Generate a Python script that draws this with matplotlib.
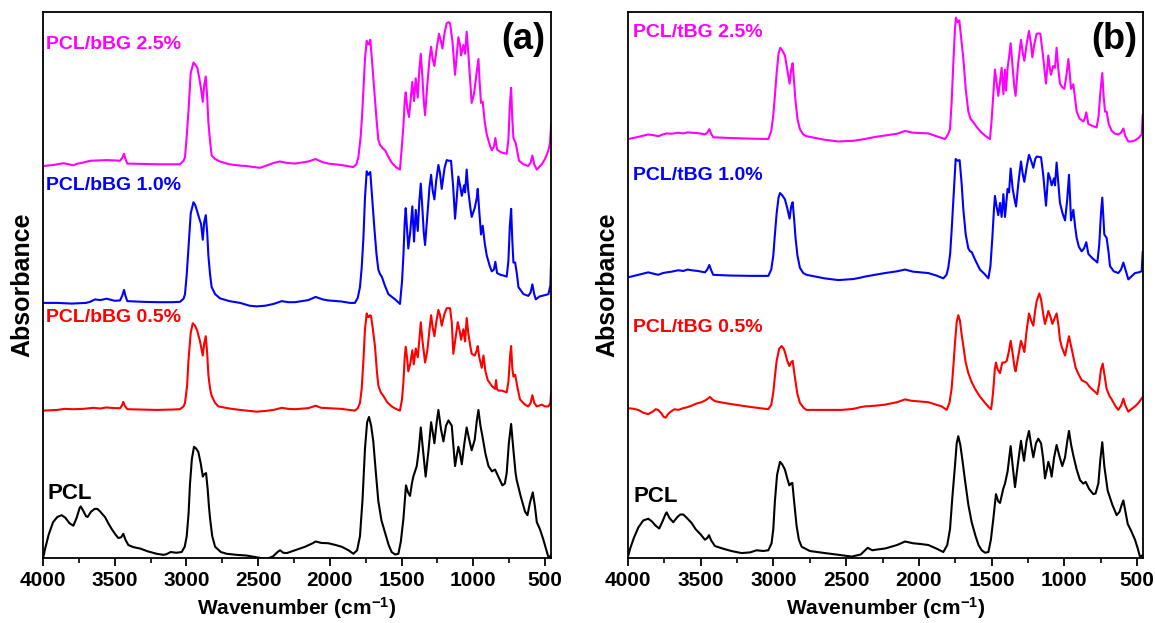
import matplotlib
matplotlib.use("Agg")
import matplotlib.pyplot as plt
from matplotlib.ticker import MultipleLocator

plt.rcParams['font.family'] = ['Liberation Sans', 'DejaVu Sans']
plt.rcParams['font.weight'] = 'bold'
plt.rcParams['mathtext.fontset'] = 'custom'
plt.rcParams['mathtext.rm'] = 'Liberation Sans:bold'
plt.rcParams['mathtext.bf'] = 'Liberation Sans:bold'
plt.rcParams['mathtext.default'] = 'bf'

# (wavenumber cm-1, absorbance a.u. above each trace's own baseline)
# ---------------- Panel (a): PCL/bBG ----------------
a_pcl = [(3998, -0.005), (3985, 0.02), (3960, 0.06), (3930, 0.095), (3900, 0.110), (3870, 0.115), (3845, 0.108),
         (3815, 0.092), (3788, 0.085), (3765, 0.108), (3745, 0.135), (3737, 0.140), (3720, 0.128), (3700, 0.112),
         (3689, 0.110), (3665, 0.125), (3640, 0.133), (3621, 0.133), (3600, 0.125), (3580, 0.115), (3568, 0.110),
         (3545, 0.092), (3520, 0.075), (3495, 0.060), (3475, 0.050), (3455, 0.052), (3440, 0.062), (3425, 0.045),
         (3405, 0.030), (3370, 0.024), (3323, 0.020), (3270, 0.012), (3207, 0.005), (3160, 0.002), (3138, 0.004),
         (3110, 0.010), (3070, 0.008), (3033, 0.010), (3012, 0.025), (2998, 0.055), (2985, 0.120), (2975, 0.205),
         (2962, 0.275), (2947, 0.310), (2932, 0.305), (2917, 0.295), (2900, 0.262), (2886, 0.225), (2875, 0.232),
         (2863, 0.235), (2852, 0.190), (2843, 0.140), (2835, 0.105), (2820, 0.055), (2800, 0.025), (2760, 0.010),
         (2719, 0.005), (2650, 0.002), (2580, 0.000), (2510, -0.005), (2440, -0.010), (2395, -0.002), (2365, 0.010),
         (2347, 0.015), (2325, 0.008), (2300, 0.007), (2243, 0.015), (2173, 0.025), (2120, 0.035), (2099, 0.040),
         (2060, 0.036), (2010, 0.035), (1960, 0.030), (1917, 0.025), (1870, 0.015), (1836, 0.005), (1810, 0.015),
         (1790, 0.055), (1772, 0.160), (1755, 0.305), (1740, 0.380), (1727, 0.395), (1712, 0.370), (1697, 0.325),
         (1680, 0.240), (1662, 0.155), (1640, 0.100), (1615, 0.065), (1590, 0.030), (1569, 0.010), (1545, 0.003),
         (1522, 0.005), (1505, 0.040), (1487, 0.105), (1469, 0.200), (1455, 0.180), (1441, 0.170), (1428, 0.205),
         (1418, 0.225), (1394, 0.255), (1380, 0.300), (1366, 0.365), (1350, 0.300), (1332, 0.225), (1312, 0.300),
         (1294, 0.380), (1280, 0.345), (1271, 0.320), (1255, 0.380), (1243, 0.415), (1225, 0.360), (1208, 0.325),
         (1190, 0.370), (1173, 0.385), (1150, 0.370), (1138, 0.310), (1127, 0.255), (1115, 0.285), (1104, 0.310),
         (1092, 0.290), (1080, 0.260), (1062, 0.320), (1046, 0.365), (1028, 0.330), (1011, 0.300), (990, 0.330),
         (975, 0.385), (964, 0.415), (950, 0.370), (934, 0.335), (915, 0.290), (894, 0.255), (870, 0.240),
         (848, 0.245), (825, 0.225), (797, 0.200), (780, 0.205), (767, 0.235), (752, 0.320), (736, 0.375),
         (720, 0.300), (705, 0.235), (697, 0.215), (670, 0.170), (639, 0.125), (622, 0.115), (605, 0.150),
         (585, 0.180), (570, 0.140), (557, 0.095), (535, 0.075), (511, 0.045), (490, 0.015), (476, -0.005),
         (458, 0.000)]

a_05 = [(3998, -0.002), (3900, 0.000), (3850, 0.003), (3788, 0.002), (3720, 0.003), (3649, 0.006), (3600, 0.004),
        (3560, 0.007), (3500, 0.005), (3463, 0.005), (3450, 0.012), (3440, 0.023), (3430, 0.012), (3412, 0.002),
        (3300, 0.001), (3207, 0.000), (3100, 0.001), (3045, 0.002), (3020, 0.010), (3010, 0.020), (2995, 0.070),
        (2986, 0.140), (2970, 0.220), (2956, 0.247), (2940, 0.240), (2924, 0.225), (2905, 0.195), (2898, 0.180),
        (2886, 0.155), (2876, 0.190), (2865, 0.210), (2855, 0.160), (2847, 0.100), (2835, 0.060), (2824, 0.040),
        (2800, 0.020), (2777, 0.010), (2700, 0.004), (2626, 0.000), (2560, -0.003), (2510, -0.005), (2450, -0.003),
        (2393, 0.000), (2335, 0.006), (2290, 0.003), (2243, 0.002), (2150, 0.005), (2099, 0.012), (2060, 0.006),
        (2010, 0.005), (1920, 0.003), (1860, 0.000), (1825, -0.002), (1805, 0.005), (1790, 0.020), (1778, 0.060),
        (1766, 0.140), (1755, 0.230), (1743, 0.275), (1735, 0.265), (1727, 0.265), (1720, 0.270), (1713, 0.268),
        (1700, 0.230), (1685, 0.180), (1672, 0.110), (1662, 0.070), (1645, 0.050), (1627, 0.040), (1600, 0.022),
        (1569, 0.010), (1540, 0.003), (1511, -0.002), (1497, 0.030), (1487, 0.080), (1478, 0.150), (1471, 0.180),
        (1462, 0.150), (1453, 0.110), (1440, 0.130), (1425, 0.170), (1415, 0.130), (1401, 0.175), (1387, 0.150),
        (1376, 0.200), (1366, 0.250), (1355, 0.200), (1336, 0.135), (1320, 0.170), (1305, 0.230), (1294, 0.270),
        (1283, 0.235), (1271, 0.210), (1258, 0.250), (1243, 0.285), (1232, 0.270), (1220, 0.240), (1200, 0.275),
        (1185, 0.290), (1162, 0.290), (1150, 0.250), (1139, 0.160), (1125, 0.200), (1108, 0.250), (1095, 0.225),
        (1085, 0.200), (1069, 0.230), (1057, 0.195), (1046, 0.262), (1035, 0.220), (1020, 0.180), (1011, 0.160),
        (990, 0.155), (975, 0.170), (969, 0.182), (958, 0.150), (941, 0.120), (929, 0.155), (915, 0.110),
        (899, 0.085), (870, 0.068), (848, 0.060), (841, 0.085), (835, 0.060), (825, 0.055), (800, 0.055),
        (767, 0.050), (755, 0.080), (742, 0.160), (736, 0.182), (728, 0.120), (720, 0.095), (708, 0.100),
        (690, 0.060), (674, 0.030), (640, 0.015), (616, 0.010), (600, 0.020), (588, 0.042), (575, 0.020),
        (557, 0.010), (522, 0.015), (500, 0.010), (476, 0.010), (462, 0.020), (457, 0.050)]

a_10 = [(3998, 0.000), (3900, 0.000), (3800, -0.002), (3700, 0.000), (3672, 0.003), (3637, 0.010), (3600, 0.008),
        (3556, 0.012), (3500, 0.006), (3463, 0.007), (3448, 0.020), (3435, 0.037), (3425, 0.020), (3412, 0.005),
        (3300, 0.003), (3200, 0.002), (3100, 0.002), (3045, 0.003), (3020, 0.012), (3010, 0.025), (2998, 0.080),
        (2986, 0.155), (2970, 0.255), (2951, 0.287), (2940, 0.280), (2928, 0.265), (2910, 0.240), (2898, 0.225),
        (2886, 0.180), (2876, 0.230), (2865, 0.250), (2855, 0.200), (2847, 0.135), (2835, 0.080), (2824, 0.045),
        (2800, 0.025), (2766, 0.013), (2700, 0.005), (2626, 0.000), (2560, -0.008), (2510, -0.010), (2450, -0.008),
        (2393, -0.003), (2335, 0.005), (2290, 0.002), (2243, 0.002), (2150, 0.008), (2099, 0.017), (2050, 0.010),
        (2010, 0.007), (1920, 0.004), (1859, 0.000), (1825, 0.000), (1805, 0.015), (1790, 0.045), (1778, 0.100),
        (1766, 0.185), (1755, 0.300), (1743, 0.375), (1732, 0.365), (1718, 0.373), (1705, 0.300), (1690, 0.215),
        (1675, 0.140), (1662, 0.095), (1650, 0.082), (1638, 0.075), (1615, 0.048), (1592, 0.025), (1545, 0.010),
        (1511, -0.003), (1497, 0.060), (1487, 0.135), (1478, 0.230), (1471, 0.270), (1462, 0.210), (1453, 0.155),
        (1440, 0.200), (1425, 0.275), (1413, 0.175), (1401, 0.265), (1387, 0.205), (1376, 0.290), (1366, 0.340),
        (1355, 0.270), (1345, 0.200), (1336, 0.165), (1320, 0.250), (1305, 0.330), (1294, 0.365), (1283, 0.320),
        (1271, 0.295), (1258, 0.350), (1243, 0.393), (1232, 0.370), (1220, 0.325), (1200, 0.385), (1185, 0.407),
        (1170, 0.405), (1155, 0.405), (1140, 0.330), (1127, 0.240), (1115, 0.300), (1104, 0.360), (1092, 0.335),
        (1080, 0.305), (1064, 0.335), (1057, 0.315), (1046, 0.380), (1035, 0.320), (1020, 0.270), (1011, 0.245),
        (990, 0.270), (975, 0.300), (969, 0.325), (958, 0.260), (946, 0.195), (934, 0.220), (920, 0.170),
        (906, 0.135), (885, 0.105), (871, 0.090), (856, 0.095), (846, 0.117), (834, 0.085), (810, 0.080),
        (790, 0.078), (767, 0.075), (755, 0.120), (745, 0.220), (736, 0.268), (728, 0.180), (720, 0.115),
        (708, 0.115), (695, 0.080), (685, 0.045), (650, 0.025), (616, 0.020), (600, 0.030), (588, 0.053),
        (575, 0.025), (564, 0.010), (540, 0.018), (522, 0.020), (500, 0.022), (476, 0.025), (462, 0.050),
        (457, 0.125)]

a_25 = [(3998, -0.005), (3930, -0.002), (3858, 0.003), (3820, 0.000), (3788, -0.003), (3760, 0.002), (3742, 0.003),
        (3710, 0.006), (3672, 0.010), (3620, 0.011), (3556, 0.012), (3500, 0.011), (3463, 0.010), (3448, 0.018),
        (3435, 0.030), (3425, 0.015), (3412, 0.002), (3300, 0.001), (3200, 0.000), (3100, 0.000), (3045, 0.000),
        (3020, 0.010), (3010, 0.020), (2998, 0.080), (2986, 0.150), (2970, 0.260), (2951, 0.290), (2940, 0.285),
        (2924, 0.275), (2910, 0.245), (2898, 0.215), (2886, 0.178), (2876, 0.225), (2865, 0.250), (2855, 0.190),
        (2847, 0.120), (2835, 0.065), (2824, 0.025), (2800, 0.015), (2766, 0.008), (2700, 0.000), (2620, -0.004),
        (2580, -0.005), (2530, -0.008), (2486, -0.010), (2430, -0.002), (2390, 0.004), (2347, 0.008), (2300, 0.004),
        (2243, 0.002), (2150, 0.008), (2099, 0.015), (2050, 0.006), (2010, 0.002), (1920, -0.002), (1836, -0.008),
        (1815, 0.000), (1801, 0.020), (1785, 0.080), (1775, 0.140), (1766, 0.210), (1755, 0.300), (1743, 0.352),
        (1735, 0.342), (1727, 0.342), (1718, 0.355), (1705, 0.290), (1690, 0.210), (1675, 0.130), (1662, 0.070),
        (1650, 0.055), (1630, 0.045), (1615, 0.040), (1590, 0.020), (1569, 0.005), (1540, -0.008), (1511, -0.015),
        (1500, 0.040), (1487, 0.110), (1478, 0.180), (1471, 0.205), (1460, 0.160), (1448, 0.135), (1435, 0.190),
        (1425, 0.235), (1413, 0.180), (1401, 0.245), (1387, 0.190), (1376, 0.270), (1366, 0.315), (1355, 0.250),
        (1345, 0.180), (1336, 0.140), (1320, 0.230), (1305, 0.300), (1294, 0.335), (1283, 0.300), (1271, 0.280),
        (1255, 0.330), (1239, 0.372), (1228, 0.355), (1215, 0.330), (1200, 0.375), (1185, 0.402), (1172, 0.405),
        (1162, 0.402), (1145, 0.350), (1127, 0.255), (1115, 0.310), (1104, 0.362), (1092, 0.340), (1085, 0.310),
        (1069, 0.340), (1057, 0.315), (1046, 0.378), (1035, 0.320), (1020, 0.230), (1011, 0.175), (995, 0.200),
        (980, 0.250), (964, 0.300), (955, 0.230), (946, 0.175), (934, 0.178), (920, 0.120), (906, 0.085),
        (885, 0.055), (871, 0.040), (856, 0.050), (846, 0.075), (834, 0.042), (810, 0.035), (790, 0.032),
        (767, 0.030), (755, 0.070), (745, 0.170), (736, 0.218), (728, 0.130), (720, 0.075), (704, 0.060),
        (690, 0.030), (681, 0.010), (650, 0.000), (616, -0.005), (600, 0.005), (588, 0.025), (575, 0.000),
        (557, -0.015), (540, -0.008), (522, 0.000), (500, 0.015), (476, 0.040), (465, 0.060), (457, 0.115)]

# ---------------- Panel (b): PCL/tBG ----------------
b_pcl = [(3998, -0.005), (3985, 0.015), (3960, 0.045), (3929, 0.075), (3895, 0.095), (3861, 0.100), (3835, 0.092),
         (3810, 0.080), (3785, 0.072), (3760, 0.095), (3740, 0.115), (3734, 0.118), (3715, 0.102), (3689, 0.090),
         (3660, 0.105), (3640, 0.112), (3620, 0.112), (3595, 0.102), (3563, 0.088), (3535, 0.070), (3500, 0.055),
         (3471, 0.040), (3455, 0.045), (3443, 0.053), (3428, 0.038), (3402, 0.022), (3350, 0.015), (3290, 0.008),
         (3219, 0.002), (3160, 0.004), (3116, 0.010), (3070, 0.008), (3035, 0.010), (3013, 0.030), (3001, 0.070),
         (2990, 0.150), (2975, 0.225), (2955, 0.262), (2940, 0.255), (2921, 0.240), (2905, 0.215), (2891, 0.195),
         (2880, 0.200), (2870, 0.202), (2858, 0.150), (2841, 0.080), (2825, 0.040), (2806, 0.020), (2750, 0.008),
         (2646, 0.002), (2550, -0.003), (2462, -0.008), (2400, -0.002), (2370, 0.010), (2352, 0.017), (2320, 0.010),
         (2290, 0.012), (2233, 0.015), (2150, 0.025), (2095, 0.035), (2040, 0.030), (1990, 0.028), (1935, 0.025),
         (1880, 0.015), (1832, 0.005), (1805, 0.025), (1786, 0.070), (1770, 0.160), (1752, 0.250), (1740, 0.315),
         (1729, 0.335), (1715, 0.310), (1700, 0.265), (1683, 0.210), (1660, 0.140), (1637, 0.090), (1610, 0.050),
         (1590, 0.025), (1568, 0.010), (1545, 0.003), (1522, 0.005), (1505, 0.040), (1488, 0.100), (1470, 0.170),
         (1455, 0.150), (1442, 0.145), (1420, 0.185), (1408, 0.200), (1390, 0.235), (1380, 0.270), (1369, 0.307),
         (1355, 0.250), (1339, 0.190), (1318, 0.260), (1298, 0.322), (1285, 0.285), (1277, 0.265), (1260, 0.320),
         (1243, 0.350), (1228, 0.310), (1213, 0.275), (1195, 0.315), (1179, 0.328), (1160, 0.315), (1145, 0.270),
         (1133, 0.215), (1120, 0.240), (1110, 0.262), (1098, 0.245), (1087, 0.220), (1070, 0.275), (1053, 0.310),
         (1035, 0.280), (1014, 0.250), (995, 0.275), (980, 0.320), (968, 0.350), (953, 0.310), (938, 0.280),
         (915, 0.240), (892, 0.210), (870, 0.200), (853, 0.205), (830, 0.185), (801, 0.170), (785, 0.172),
         (766, 0.200), (752, 0.270), (739, 0.318), (725, 0.250), (702, 0.180), (670, 0.140), (640, 0.110),
         (620, 0.120), (605, 0.140), (594, 0.152), (580, 0.120), (564, 0.085), (540, 0.065), (514, 0.040),
         (495, 0.015), (480, -0.008), (464, -0.005)]

b_05 = [(3998, 0.005), (3960, 0.003), (3929, 0.000), (3895, -0.008), (3861, -0.012), (3830, -0.005), (3810, 0.002),
        (3792, 0.000), (3770, -0.010), (3755, -0.020), (3741, -0.022), (3725, -0.012), (3700, -0.003), (3680, 0.002),
        (3654, 0.000), (3620, 0.005), (3590, 0.008), (3563, 0.012), (3530, 0.018), (3494, 0.022), (3465, 0.028),
        (3450, 0.033), (3437, 0.037), (3420, 0.030), (3402, 0.025), (3340, 0.020), (3265, 0.015), (3150, 0.008),
        (3035, 0.002), (3015, 0.015), (3001, 0.050), (2990, 0.095), (2978, 0.140), (2960, 0.175), (2944, 0.182),
        (2930, 0.175), (2921, 0.165), (2905, 0.140), (2891, 0.125), (2880, 0.135), (2868, 0.140), (2858, 0.110),
        (2848, 0.080), (2835, 0.045), (2818, 0.020), (2790, 0.005), (2772, 0.000), (2650, 0.000), (2531, 0.000),
        (2450, 0.003), (2400, 0.008), (2371, 0.010), (2300, 0.012), (2233, 0.015), (2150, 0.022), (2095, 0.030),
        (2050, 0.026), (1990, 0.024), (1935, 0.022), (1880, 0.015), (1843, 0.010), (1809, 0.000), (1790, 0.020),
        (1775, 0.060), (1762, 0.130), (1752, 0.190), (1740, 0.250), (1729, 0.270), (1718, 0.255), (1706, 0.215),
        (1694, 0.180), (1678, 0.135), (1660, 0.105), (1640, 0.082), (1614, 0.060), (1580, 0.038), (1545, 0.020),
        (1520, 0.008), (1504, 0.002), (1496, 0.025), (1488, 0.060), (1478, 0.115), (1470, 0.135), (1458, 0.115),
        (1442, 0.105), (1432, 0.125), (1426, 0.135), (1410, 0.135), (1396, 0.140), (1382, 0.165), (1369, 0.197),
        (1355, 0.160), (1342, 0.120), (1335, 0.110), (1318, 0.150), (1298, 0.197), (1285, 0.180), (1275, 0.165),
        (1258, 0.230), (1243, 0.275), (1228, 0.255), (1213, 0.240), (1200, 0.285), (1190, 0.310), (1172, 0.332),
        (1160, 0.315), (1151, 0.290), (1140, 0.260), (1133, 0.245), (1120, 0.265), (1110, 0.282), (1095, 0.265),
        (1082, 0.245), (1068, 0.260), (1053, 0.275), (1040, 0.240), (1030, 0.200), (1018, 0.180), (995, 0.155),
        (980, 0.185), (968, 0.210), (955, 0.185), (950, 0.175), (935, 0.145), (922, 0.120), (900, 0.100),
        (881, 0.085), (860, 0.080), (846, 0.077), (830, 0.068), (812, 0.060), (790, 0.052), (773, 0.045),
        (760, 0.075), (748, 0.115), (736, 0.132), (722, 0.095), (709, 0.060), (690, 0.040), (674, 0.030),
        (650, 0.012), (629, 0.000), (610, 0.012), (594, 0.032), (580, 0.012), (560, -0.005), (540, 0.002),
        (514, 0.010), (490, 0.020), (464, 0.035)]

b_10 = [(3998, -0.002), (3930, 0.005), (3861, 0.012), (3820, 0.008), (3792, 0.005), (3760, 0.010), (3734, 0.012),
        (3700, 0.014), (3654, 0.018), (3620, 0.016), (3590, 0.020), (3563, 0.018), (3520, 0.016), (3471, 0.012),
        (3455, 0.020), (3441, 0.033), (3428, 0.018), (3414, 0.005), (3300, 0.003), (3150, 0.002), (3035, 0.002),
        (3015, 0.020), (3001, 0.060), (2990, 0.120), (2978, 0.180), (2965, 0.225), (2955, 0.238), (2940, 0.232),
        (2921, 0.220), (2905, 0.195), (2889, 0.165), (2878, 0.200), (2868, 0.212), (2858, 0.165), (2848, 0.110),
        (2835, 0.060), (2818, 0.025), (2795, 0.010), (2772, 0.005), (2650, -0.005), (2554, -0.010), (2450, -0.007),
        (2400, -0.003), (2371, 0.000), (2300, 0.005), (2233, 0.010), (2150, 0.015), (2095, 0.020), (2040, 0.014),
        (1990, 0.012), (1935, 0.010), (1880, 0.003), (1832, -0.005), (1810, 0.005), (1798, 0.025), (1785, 0.065),
        (1775, 0.130), (1760, 0.240), (1747, 0.335), (1733, 0.330), (1720, 0.332), (1707, 0.270), (1694, 0.190),
        (1678, 0.120), (1660, 0.080), (1648, 0.072), (1637, 0.070), (1610, 0.045), (1580, 0.020), (1550, 0.008),
        (1522, -0.005), (1508, 0.030), (1495, 0.110), (1484, 0.190), (1477, 0.230), (1466, 0.200), (1454, 0.175),
        (1442, 0.210), (1431, 0.170), (1419, 0.235), (1408, 0.170), (1398, 0.215), (1390, 0.250), (1380, 0.240),
        (1369, 0.308), (1355, 0.250), (1340, 0.215), (1332, 0.200), (1315, 0.270), (1298, 0.328), (1285, 0.290),
        (1275, 0.270), (1258, 0.315), (1243, 0.347), (1228, 0.330), (1213, 0.310), (1200, 0.335), (1190, 0.342),
        (1175, 0.341), (1160, 0.340), (1145, 0.290), (1126, 0.202), (1118, 0.250), (1110, 0.295), (1098, 0.280),
        (1087, 0.260), (1071, 0.280), (1064, 0.260), (1053, 0.325), (1042, 0.270), (1030, 0.210), (1012, 0.180),
        (995, 0.160), (980, 0.220), (968, 0.290), (960, 0.220), (954, 0.160), (938, 0.190), (925, 0.140),
        (915, 0.110), (900, 0.085), (881, 0.072), (865, 0.080), (849, 0.098), (835, 0.065), (820, 0.058),
        (801, 0.050), (785, 0.045), (773, 0.040), (760, 0.090), (748, 0.180), (739, 0.225), (732, 0.170),
        (725, 0.120), (709, 0.110), (696, 0.070), (686, 0.030), (660, 0.015), (629, 0.010), (610, 0.020),
        (594, 0.040), (580, 0.020), (560, -0.008), (540, 0.000), (514, 0.010), (490, 0.012), (468, 0.015),
        (461, 0.070)]

b_25 = [(3998, -0.003), (3930, 0.003), (3861, 0.010), (3825, 0.008), (3792, 0.005), (3760, 0.010), (3734, 0.013),
        (3700, 0.012), (3654, 0.015), (3620, 0.013), (3590, 0.016), (3563, 0.015), (3520, 0.014), (3471, 0.010),
        (3455, 0.015), (3441, 0.025), (3428, 0.012), (3414, 0.002), (3300, 0.000), (3150, -0.002), (3035, -0.003),
        (3015, 0.020), (3001, 0.065), (2990, 0.120), (2978, 0.185), (2965, 0.240), (2953, 0.257), (2940, 0.250),
        (2921, 0.235), (2905, 0.195), (2889, 0.155), (2878, 0.195), (2868, 0.213), (2858, 0.160), (2848, 0.105),
        (2835, 0.055), (2818, 0.025), (2795, 0.010), (2772, 0.005), (2650, -0.005), (2554, -0.010), (2450, -0.008),
        (2400, -0.005), (2371, -0.003), (2300, 0.003), (2233, 0.007), (2150, 0.012), (2095, 0.020), (2040, 0.015),
        (1990, 0.014), (1935, 0.013), (1880, 0.005), (1820, -0.003), (1800, 0.010), (1786, 0.025), (1775, 0.100),
        (1763, 0.215), (1752, 0.310), (1745, 0.343), (1733, 0.330), (1722, 0.335), (1708, 0.280), (1694, 0.225),
        (1678, 0.140), (1660, 0.075), (1645, 0.055), (1626, 0.045), (1600, 0.030), (1568, 0.015), (1540, 0.005),
        (1511, -0.003), (1500, 0.050), (1488, 0.125), (1477, 0.195), (1466, 0.160), (1454, 0.120), (1442, 0.160),
        (1431, 0.200), (1419, 0.125), (1408, 0.195), (1401, 0.135), (1390, 0.200), (1380, 0.230), (1369, 0.270),
        (1355, 0.200), (1345, 0.150), (1335, 0.120), (1318, 0.210), (1298, 0.280), (1285, 0.240), (1275, 0.220),
        (1258, 0.270), (1243, 0.305), (1230, 0.270), (1220, 0.230), (1205, 0.270), (1190, 0.297), (1178, 0.298),
        (1165, 0.297), (1148, 0.240), (1126, 0.155), (1118, 0.195), (1110, 0.235), (1100, 0.200), (1092, 0.180),
        (1076, 0.205), (1064, 0.200), (1053, 0.257), (1042, 0.200), (1030, 0.155), (1015, 0.145), (1000, 0.140),
        (985, 0.180), (972, 0.225), (962, 0.180), (954, 0.140), (938, 0.153), (925, 0.110), (915, 0.075),
        (895, 0.055), (869, 0.047), (860, 0.055), (849, 0.073), (835, 0.040), (810, 0.035), (790, 0.032),
        (778, 0.030), (765, 0.060), (752, 0.130), (739, 0.185), (730, 0.120), (720, 0.075), (709, 0.075),
        (695, 0.040), (674, 0.020), (650, 0.012), (629, 0.010), (610, 0.015), (594, 0.027), (580, 0.005),
        (560, -0.010), (540, -0.010), (514, -0.007), (490, 0.000), (468, 0.010), (461, 0.065)]

a_labels = ['PCL', 'PCL/bBG 0.5%', 'PCL/bBG 1.0%', 'PCL/bBG 2.5%']
b_labels = ['PCL', 'PCL/tBG 0.5%', 'PCL/tBG 1.0%', 'PCL/tBG 2.5%']
a_offsets = [0.007, 0.422, 0.727, 1.122]
b_offsets = [0.012, 0.422, 0.802, 1.197]

colors = ['black', '#ff0000', '#0000ff', '#ff00ff']

fig = plt.figure(figsize=(11.55, 6.23), dpi=100)
ax_a = fig.add_axes([43 / 1155, 65 / 623, 508 / 1155, 546 / 623])
ax_b = fig.add_axes([628 / 1155, 65 / 623, 515 / 1155, 546 / 623])

panels = [
    (ax_a, [a_pcl, a_05, a_10, a_25], a_offsets, a_labels, 458, '(a)',
     [(0.008, 0.119), (0.006, 0.441), (0.006, 0.683), (0.006, 0.940)]),
    (ax_b, [b_pcl, b_05, b_10, b_25], b_offsets, b_labels, 459, '(b)',
     [(0.010, 0.112), (0.010, 0.423), (0.010, 0.700), (0.010, 0.962)]),
]

for ax, series, offs, labels, xmin, tag, lab_pos in panels:
    for pts, off, col, lab, (lx, ly) in zip(series, offs, colors, labels, lab_pos):
        wn = [p[0] for p in pts]
        ab = [p[1] + off for p in pts]
        ax.plot(wn, ab, color=col, lw=1.5, solid_joinstyle='round')
        ax.text(lx, ly, lab, color=col, fontsize=16 if lab == 'PCL' else 14, fontweight='bold',
                transform=ax.transAxes, ha='left', va='center')
    ax.text(0.988, 0.949, tag, fontsize=26, fontweight='bold', transform=ax.transAxes,
            ha='right', va='center')
    ax.set_xlim(4000, xmin)
    ax.set_ylim(0, 1.556)
    ax.xaxis.set_major_locator(MultipleLocator(500))
    ax.xaxis.set_minor_locator(MultipleLocator(250))
    ax.tick_params(axis='x', which='major', direction='out', length=6, width=1.3,
                   labelsize=15, pad=3)
    ax.tick_params(axis='x', which='minor', direction='out', length=3.5, width=1.2)
    ax.set_yticks([])
    for sp in ax.spines.values():
        sp.set_linewidth(1.3)
    for t in ax.get_xticklabels():
        t.set_fontweight('bold')
    ax.set_xlabel(r'Wavenumber (cm$^{-1}$)', fontsize=15, fontweight='bold', labelpad=4)
    ax.set_ylabel('Absorbance', fontsize=18, fontweight='bold', labelpad=6)

fig.savefig('out.png', dpi=100)
